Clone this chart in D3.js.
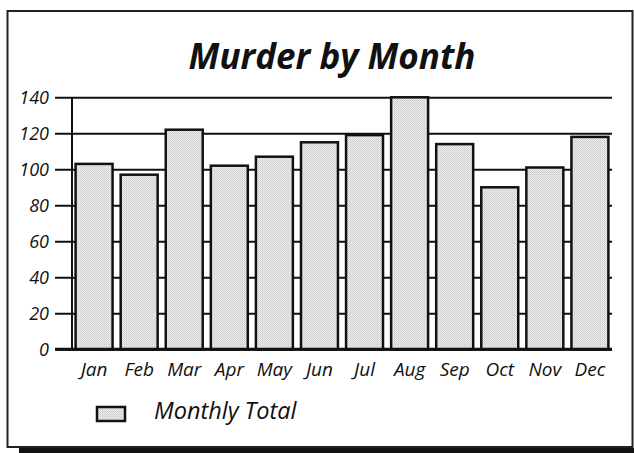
<!DOCTYPE html>
<html>
<head>
<meta charset="utf-8">
<script src="https://cdn.jsdelivr.net/npm/d3@7"></script>
<style>
  body { margin: 0; background: #fff; }
  text { font-family: "Open Sans", sans-serif; font-style: italic; fill: #111; }
</style>
</head>
<body>
<div id="chart"></div>
<script>
// data
const months = ["Jan", "Feb", "Mar", "Apr", "May", "Jun", "Jul", "Aug", "Sep", "Oct", "Nov", "Dec"];
const totals = [103, 97, 122, 102, 107, 115, 119, 140, 114, 90, 101, 118];
const yTicks = [0, 20, 40, 60, 80, 100, 120, 140];
const seriesName = "Monthly Total";
const title = "Murder by Month";

const W = 634, H = 453;
const margin = { top: 97, right: 22, bottom: 103, left: 72 };

const svg = d3.select("#chart")
    .append("svg")
    .attr("width", W)
    .attr("height", H);

// stipple fill like the printed chart
const pat = svg.append("defs").append("pattern")
    .attr("id", "stipple")
    .attr("width", 2).attr("height", 2)
    .attr("patternUnits", "userSpaceOnUse");
pat.append("rect").attr("width", 2).attr("height", 2).attr("fill", "#ececec");
pat.append("rect").attr("width", 1).attr("height", 1).attr("fill", "#cbcbcb");
pat.append("rect").attr("x", 1).attr("y", 1).attr("width", 1).attr("height", 1).attr("fill", "#d6d6d6");

// frame + shadow
svg.append("rect")
    .attr("x", 19).attr("y", 448).attr("width", W - 19).attr("height", 6)
    .attr("fill", "#111");
svg.append("rect")
    .attr("x", 7.5).attr("y", 11).attr("width", 625).attr("height", 436)
    .attr("fill", "none").attr("stroke", "#222").attr("stroke-width", 2);

const x = d3.scaleBand()
    .domain(months)
    .range([margin.left, W - margin.right])
    .paddingInner(0.18)
    .paddingOuter(0.08);

const y = d3.scaleLinear()
    .domain([0, 140])
    .range([H - margin.bottom - 0.7, margin.top + 0.3]);

// gridlines (behind bars) with the left tick stubs
svg.append("g")
    .attr("class", "y axis")
    .attr("transform", `translate(${margin.left},0)`)
    .call(d3.axisLeft(y)
        .tickValues(yTicks)
        .tickSize(17)
        .tickPadding(8))
    .call(g => g.select(".domain").remove())
    .call(g => g.selectAll(".tick line")
        .attr("x2", W - margin.right - margin.left)
        .attr("x1", -17)
        .attr("stroke", "#111")
        .attr("stroke-width", 2))
    .call(g => g.selectAll(".tick text")
        .attr("x", -23)
        .style("font-size", "18px"));

// y axis line
svg.append("line")
    .attr("x1", margin.left).attr("x2", margin.left)
    .attr("y1", y(140)).attr("y2", y(0))
    .attr("stroke", "#111").attr("stroke-width", 2);

// bars
svg.selectAll("rect.bar")
    .data(totals)
    .enter()
    .append("rect")
    .attr("class", "bar")
    .attr("x", (d, i) => x(months[i]))
    .attr("width", x.bandwidth())
    .attr("y", d => y(d))
    .attr("height", d => y(0) - y(d))
    .attr("fill", "url(#stipple)")
    .attr("stroke", "#111")
    .attr("stroke-width", 2.5);

// baseline
svg.append("line")
    .attr("x1", 55).attr("x2", W - margin.right)
    .attr("y1", y(0)).attr("y2", y(0))
    .attr("stroke", "#111").attr("stroke-width", 3);

// month labels
svg.append("g")
    .attr("class", "x axis")
    .attr("transform", `translate(0,${y(0)})`)
    .call(d3.axisBottom(x).tickSize(0).tickPadding(13))
    .call(g => g.select(".domain").remove())
    .call(g => g.selectAll(".tick text").style("font-size", "19px"));

// title
svg.append("text")
    .attr("x", 332).attr("y", 69)
    .attr("text-anchor", "middle")
    .style("font-size", "35px")
    .style("font-weight", "bold")
    .text(title);

// legend
svg.append("rect")
    .attr("x", 97).attr("y", 407).attr("width", 28).attr("height", 14)
    .attr("fill", "url(#stipple)")
    .attr("stroke", "#111").attr("stroke-width", 2.5);
svg.append("text")
    .attr("x", 154).attr("y", 419)
    .style("font-size", "23.5px")
    .text(seriesName);
</script>
</body>
</html>
